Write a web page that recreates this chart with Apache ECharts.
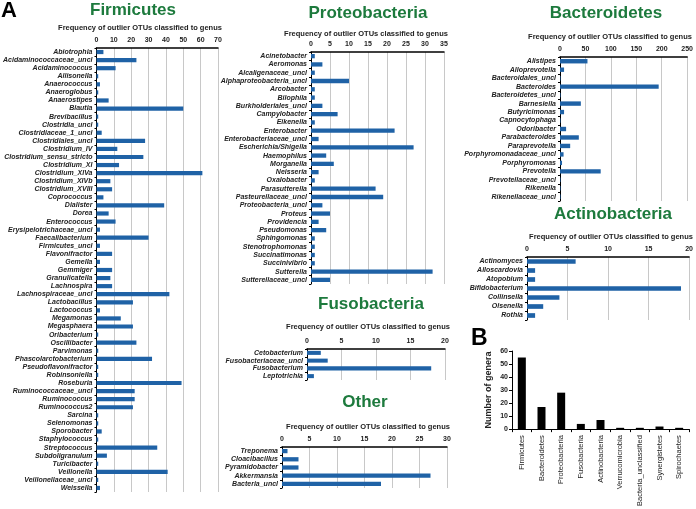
<!DOCTYPE html>
<html>
<head>
<meta charset="utf-8">
<script src="https://cdn.jsdelivr.net/npm/echarts@6/dist/echarts.min.js"></script>
<style>
  html, body { margin: 0; padding: 0; background: #fff; }
  #main { width: 696px; height: 509px; }
</style>
</head>
<body>
<div id="main"></div>
<script>
// genus counts per phylum (panel A)
var firmicutesGenera = ['Abiotrophia', 'Acidaminococcaceae_uncl', 'Acidaminococcus', 'Allisonella', 'Anaerococcus',
  'Anaeroglobus', 'Anaerostipes', 'Blautia', 'Brevibacillus', 'Clostridia_uncl', 'Clostridiaceae_1_uncl',
  'Clostridiales_uncl', 'Clostridium_IV', 'Clostridium_sensu_stricto', 'Clostridium_XI', 'Clostridium_XIVa',
  'Clostridium_XIVb', 'Clostridium_XVIII', 'Coprococcus', 'Dialister', 'Dorea', 'Enterococcus',
  'Erysipelotrichaceae_uncl', 'Faecalibacterium', 'Firmicutes_uncl', 'Flavonifractor', 'Gemella', 'Gemmiger',
  'Granulicatella', 'Lachnospira', 'Lachnospiraceae_uncl', 'Lactobacillus', 'Lactococcus', 'Megamonas',
  'Megasphaera', 'Oribacterium', 'Oscillibacter', 'Parvimonas', 'Phascolarctobacterium', 'Pseudoflavonifractor',
  'Robinsoniella', 'Roseburia', 'Ruminococcaceae_uncl', 'Ruminococcus', 'Ruminococcus2', 'Sarcina',
  'Selenomonas', 'Sporobacter', 'Staphylococcus', 'Streptococcus', 'Subdoligranulum', 'Turicibacter',
  'Veillonella', 'Veillonellaceae_uncl', 'Weissella'];
var firmicutesCounts = [4, 23, 11, 1, 2, 1, 7, 50, 1, 1, 3, 28, 12, 27, 13, 61, 8, 9, 4, 39, 7, 11, 2, 30, 2, 9, 2, 9,
  8, 9, 42, 21, 2, 14, 21, 1, 23, 1, 32, 1, 1, 49, 22, 22, 21, 1, 1, 3, 1, 35, 6, 1, 41, 1, 2];

var proteoGenera = ['Acinetobacter', 'Aeromonas', 'Alcaligenaceae_uncl', 'Alphaproteobacteria_uncl', 'Arcobacter',
  'Bilophila', 'Burkholderiales_uncl', 'Campylobacter', 'Eikenella', 'Enterobacter', 'Enterobacteriaceae_uncl',
  'Escherichia/Shigella', 'Haemophilus', 'Morganella', 'Neisseria', 'Oxalobacter', 'Parasutterella',
  'Pasteurellaceae_uncl', 'Proteobacteria_uncl', 'Proteus', 'Providencia', 'Pseudomonas', 'Sphingomonas',
  'Stenotrophomonas', 'Succinatimonas', 'Succinivibrio', 'Sutterella', 'Sutterellaceae_uncl'];
var proteoCounts = [1, 3, 1, 10, 1, 1, 3, 7, 1, 22, 2, 27, 4, 6, 2, 1, 17, 19, 3, 5, 2, 4, 1, 1, 1, 1, 32, 5];

var bacteroGenera = ['Alistipes', 'Alloprevotella', 'Bacteroidales_uncl', 'Bacteroides', 'Bacteroidetes_uncl',
  'Barnesiella', 'Butyricimonas', 'Capnocytophaga', 'Odoribacter', 'Parabacteroides', 'Paraprevotella',
  'Porphyromonadaceae_uncl', 'Porphyromonas', 'Prevotella', 'Prevotellaceae_uncl', 'Rikenella', 'Rikenellaceae_uncl'];
var bacteroCounts = [54, 8, 1, 194, 1, 41, 8, 1, 12, 37, 20, 7, 4, 80, 1, 1, 1];

var actinoGenera = ['Actinomyces', 'Alloscardovia', 'Atopobium', 'Bifidobacterium', 'Collinsella', 'Olsenella', 'Rothia'];
var actinoCounts = [6, 1, 1, 19, 4, 2, 1];

var fusoGenera = ['Cetobacterium', 'Fusobacteriaceae_uncl', 'Fusobacterium', 'Leptotrichia'];
var fusoCounts = [2, 3, 18, 1];

var otherGenera = ['Treponema', 'Cloacibacillus', 'Pyramidobacter', 'Akkermansia', 'Bacteria_uncl'];
var otherCounts = [1, 3, 3, 27, 18];

// number of genera per phylum (panel B)
var phyla = ['Firmicutes', 'Bacteroidetes', 'Proteobacteria', 'Fusobacteria', 'Actinobacteria',
  'Verrucomicrobia', 'Bacteria_unclassified', 'Synergistetes', 'Spirochaetes'];
var generaPerPhylum = [55, 17, 28, 4, 7, 1, 1, 2, 1];

var FONT = '"Liberation Sans", Arial, sans-serif';
var BLUE = '#1f62a6';
var GREEN = '#1d7a3d';
var SUB = 'Frequency of outlier OTUs classified to genus';

var chart = echarts.init(document.getElementById('main'));

// panel layout: title pos, subtitle pos, grid box
var panels = [
  { title: 'Firmicutes', genera: firmicutesGenera, counts: firmicutesCounts, max: 70, step: 10,
    tx: 133, ty: 10, sx: 140, sy: 28, grid: { left: 90, top: 48, width: 128, height: 444 } },
  { title: 'Proteobacteria', genera: proteoGenera, counts: proteoCounts, max: 35, step: 5,
    tx: 368, ty: 13, sx: 366, sy: 34, grid: { left: 311, top: 52, width: 133, height: 232 } },
  { title: 'Bacteroidetes', genera: bacteroGenera, counts: bacteroCounts, max: 250, step: 50,
    tx: 606, ty: 13, sx: 610, sy: 37, grid: { left: 560, top: 57, width: 128, height: 144 } },
  { title: 'Actinobacteria', genera: actinoGenera, counts: actinoCounts, max: 20, step: 5,
    tx: 613, ty: 214, sx: 611, sy: 237, grid: { left: 527, top: 257, width: 163, height: 63 } },
  { title: 'Fusobacteria', genera: fusoGenera, counts: fusoCounts, max: 20, step: 5,
    tx: 371, ty: 304, sx: 368, sy: 327, grid: { left: 307, top: 349, width: 138, height: 31 } },
  { title: 'Other', genera: otherGenera, counts: otherCounts, max: 30, step: 5,
    tx: 365, ty: 402, sx: 368, sy: 427, grid: { left: 282, top: 447, width: 165, height: 41 } }
];

var grids = [], xAxes = [], yAxes = [], series = [], graphics = [];

panels.forEach(function (p, i) {
  grids.push(p.grid);
  xAxes.push({
    gridIndex: i, type: 'value', position: 'top', min: 0, max: p.max, interval: p.step,
    axisLine: { show: true, lineStyle: { color: '#000', width: 1.5 } },
    axisTick: { show: false },
    axisLabel: { fontSize: 7, fontWeight: 'bold', color: '#222', fontFamily: FONT, margin: 4 },
    splitLine: { show: true, lineStyle: { color: '#c8c8c8', width: 1 } }
  });
  yAxes.push({
    gridIndex: i, type: 'category', data: p.genera, inverse: true,
    axisLine: { show: true, lineStyle: { color: '#000', width: 1 } },
    axisTick: { show: true, length: 2, lineStyle: { color: '#000' } },
    axisLabel: { fontSize: 7, fontWeight: 'bold', fontStyle: 'italic', color: '#222', fontFamily: FONT, margin: 4, interval: 0 }
  });
  series.push({
    type: 'bar', xAxisIndex: i, yAxisIndex: i, data: p.counts,
    barWidth: '52%', itemStyle: { color: BLUE }, silent: true
  });
  graphics.push({
    type: 'text', x: p.tx, y: p.ty,
    style: { text: p.title, fill: GREEN, font: 'bold 17px ' + FONT, align: 'center', verticalAlign: 'middle' }
  });
  graphics.push({
    type: 'text', x: p.sx, y: p.sy,
    style: { text: SUB, fill: '#222', font: 'bold 7.5px ' + FONT, align: 'center', verticalAlign: 'middle' }
  });
});

// panel B
var bi = panels.length;
grids.push({ left: 512, top: 351, width: 177, height: 79 });
xAxes.push({
  gridIndex: bi, type: 'category', data: phyla,
  axisLine: { show: true, lineStyle: { color: '#000', width: 1 } },
  axisTick: { show: true, length: 3, lineStyle: { color: '#000' } },
  axisLabel: { rotate: 90, fontSize: 7.5, color: '#222', fontFamily: FONT, margin: 6, interval: 0 }
});
yAxes.push({
  gridIndex: bi, type: 'value', min: 0, max: 60, interval: 10,
  name: 'Number of genera', nameLocation: 'middle', nameRotate: 90, nameGap: 19,
  nameTextStyle: { fontSize: 9, fontWeight: 'bold', color: '#222', fontFamily: FONT },
  axisLine: { show: true, lineStyle: { color: '#000', width: 1 } },
  axisTick: { show: true, length: 3, lineStyle: { color: '#000' } },
  axisLabel: { fontSize: 7, fontWeight: 'bold', color: '#222', fontFamily: FONT, margin: 4 },
  splitLine: { show: false }
});
series.push({
  type: 'bar', xAxisIndex: bi, yAxisIndex: bi, data: generaPerPhylum,
  barWidth: 8, itemStyle: { color: '#000' }, silent: true
});

graphics.push({ type: 'text', x: 1, y: 0, style: { text: 'A', fill: '#000', font: 'bold 22px ' + FONT } });
graphics.push({ type: 'text', x: 471, y: 327, style: { text: 'B', fill: '#000', font: 'bold 23px ' + FONT } });

chart.setOption({
  animation: false,
  backgroundColor: '#fff',
  grid: grids,
  xAxis: xAxes,
  yAxis: yAxes,
  series: series,
  graphic: graphics
});
</script>
</body>
</html>
